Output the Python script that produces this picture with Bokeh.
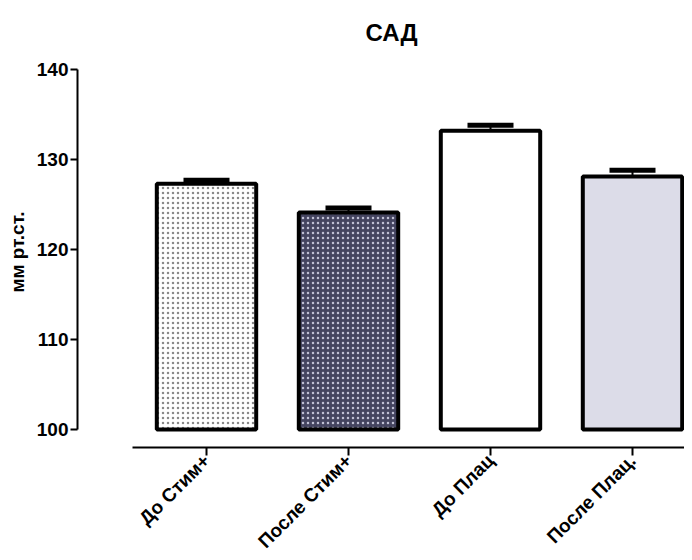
from bokeh.plotting import figure
from bokeh.models import Range1d, FixedTicker, LinearAxis, Whisker, ColumnDataSource, TeeHead
from bokeh.embed import file_html
from bokeh.resources import INLINE
import math

# Data
categories = ["До Стим+", "После Стим+", "До Плац", "После Плац."]
means = [127.3, 124.1, 133.2, 128.1]
sems = [0.4, 0.5, 0.6, 0.7]
fills = ["#ffffff", "#44445f", "#ffffff", "#dcdce8"]
hatches = [".", ".", " ", " "]
hatch_colors = ["#8a8a8a", "#c0c0d4", "#ffffff", "#ffffff"]
y_ticks = [100, 110, 120, 130, 140]

xs = list(range(1, len(categories) + 1))
src = ColumnDataSource(dict(
    x=xs, top=means, upper=[m + s for m, s in zip(means, sems)],
    fill=fills, hatch=hatches, hcol=hatch_colors,
))

FONT = "Liberation Sans"

p = figure(
    frame_width=607, frame_height=391,
    x_range=Range1d(1 - 129 / 142, 1 + 478 / 142),
    y_range=Range1d(98, 140 + 13 / 9),
    output_backend="svg", toolbar_location=None,
    x_axis_location=None, y_axis_location=None,
    min_border_left=77, min_border_top=56, min_border_bottom=105, min_border_right=0,
    title="САД",
)
p.title.text_font = FONT
p.title.text_font_size = "24px"
p.title.text_font_style = "bold"
p.title.text_color = "black"
p.title.align = "left"
p.title.offset = 288
p.title.standoff = 22
p.outline_line_color = None
p.xgrid.visible = False
p.ygrid.visible = False

p.vbar(x="x", top="top", bottom=100, width=0.70, source=src,
       fill_color="fill", hatch_pattern="hatch", hatch_color="hcol",
       hatch_scale=5, hatch_weight=1.5,
       line_color="black", line_width=4)

w = Whisker(base="x", upper="upper", lower="top", source=src,
            line_color="black", line_width=2,
            upper_head=TeeHead(size=46, line_width=5, line_color="black"),
            lower_head=None)
p.add_layout(w)

yax = LinearAxis(ticker=FixedTicker(ticks=y_ticks), bounds=(100, 140))
yax.axis_line_width = 2
yax.major_tick_line_width = 2
yax.major_tick_out = 7
yax.major_tick_in = 0
yax.minor_tick_line_color = None
yax.major_label_text_font = FONT
yax.major_label_text_font_size = "19px"
yax.major_label_text_font_style = "bold"
yax.major_label_text_color = "black"
yax.major_label_standoff = 2
yax.axis_label = "мм рт.ст."
yax.axis_label_text_font = FONT
yax.axis_label_text_font_size = "19px"
yax.axis_label_text_font_style = "bold"
yax.axis_label_text_color = "black"
yax.axis_label_standoff = 6
p.add_layout(yax, "left")

xax = LinearAxis(ticker=FixedTicker(ticks=xs), bounds=(1 - 74 / 142, 1 + 478 / 142))
xax.major_label_overrides = {x: c for x, c in zip(xs, categories)}
xax.axis_line_width = 2
xax.major_tick_line_width = 2
xax.major_tick_out = 8
xax.major_tick_in = 0
xax.minor_tick_line_color = None
xax.major_label_orientation = math.pi / 4
xax.major_label_text_font = FONT
xax.major_label_text_font_size = "19px"
xax.major_label_text_font_style = "bold"
xax.major_label_text_color = "black"
xax.major_label_standoff = 2
p.add_layout(xax, "below")

open("out.html", "w").write(file_html(p, INLINE))
